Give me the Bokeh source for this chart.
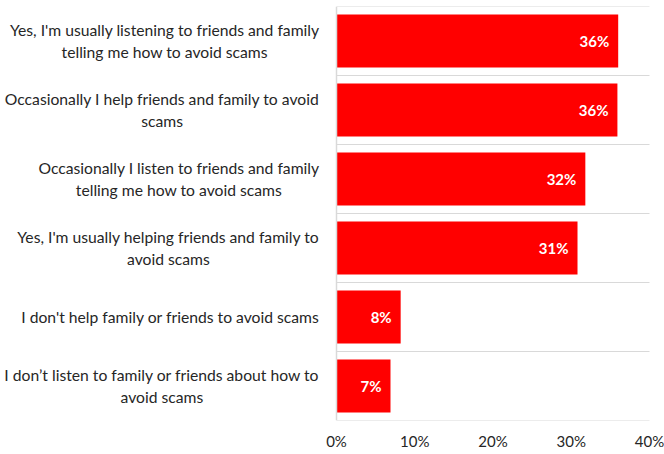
from bokeh.plotting import figure
from bokeh.models import Range1d, FixedTicker, ColumnDataSource
from bokeh.core.properties import value
from bokeh.embed import file_html
from bokeh.resources import INLINE

categories = [
    "Yes, I'm usually listening to friends and family\ntelling me how to avoid scams",
    "Occasionally I help friends and family to avoid\nscams",
    "Occasionally I listen to friends and family\ntelling me how to avoid scams",
    "Yes, I'm usually helping friends and family to\navoid scams",
    "I don't help family or friends to avoid scams",
    "I don\u2019t listen to family or friends about how to\navoid scams",
]
values = [36.0, 35.9, 31.8, 30.8, 8.2, 6.9]
value_labels = ["36%", "36%", "32%", "31%", "8%", "7%"]
ticks = [0, 10, 20, 30, 40]
tick_labels = ["0%", "10%", "20%", "30%", "40%"]

FONT = "Lato"
TEXT_COLOR = "#262626"
GRID = "#D9D9D9"

px_per_unit = 313 / 40.0
x0_px = 336
W = 664
x_start = -x0_px / px_per_unit
x_end = (W - x0_px) / px_per_unit

factors = list(reversed(categories))

p = figure(
    frame_width=W, frame_height=414,
    x_range=Range1d(x_start, x_end), y_range=factors,
    output_backend="svg", toolbar_location=None,
    min_border_left=0, min_border_right=0, min_border_top=6, min_border_bottom=34,
    outline_line_color=None, background_fill_color="white",
)

src = ColumnDataSource(dict(cat=categories, val=values, lab=value_labels,
                            zero=[0] * len(values)))

p.hbar(y="cat", left=0, right="val", height=0.77, source=src,
       fill_color="#FF0000", line_color=None)

# value labels inside bar ends
p.text(x="val", y="cat", text="lab", source=src, text_align="right",
       text_baseline="middle", x_offset=-9, text_color="white",
       text_font=value(FONT), text_font_style="bold", text_font_size="15px")

# category labels (left): block right-aligned, lines centered
p.text(x="zero", y="cat", text="cat", source=src, anchor="center_right",
       text_align="center", text_baseline="middle", x_offset=-17,
       text_color=TEXT_COLOR, text_font=value(FONT),
       text_font_size="15.7px", text_line_height=1.18)

# separators between categories
n = len(factors)
sep_y = [i for i in range(n + 1)]
p.segment(x0=[0] * (n + 1), x1=[40] * (n + 1), y0=sep_y, y1=sep_y,
          line_color=GRID, line_width=1)
# left axis line
p.segment(x0=[0], x1=[0], y0=[0], y1=[n], line_color=GRID, line_width=1.5)

p.yaxis.visible = False
p.ygrid.grid_line_color = None
p.xgrid.grid_line_color = None
p.xaxis.ticker = FixedTicker(ticks=ticks)
p.xaxis.major_label_overrides = {t: l for t, l in zip(ticks, tick_labels)}
p.xaxis.axis_line_color = None
p.xaxis.major_tick_line_color = None
p.xaxis.minor_tick_line_color = None
p.xaxis.major_label_standoff = 5
p.xaxis.major_label_text_font = FONT
p.xaxis.major_label_text_font_size = "15px"
p.xaxis.major_label_text_color = TEXT_COLOR

open("out.html", "w").write(file_html(p, INLINE))
